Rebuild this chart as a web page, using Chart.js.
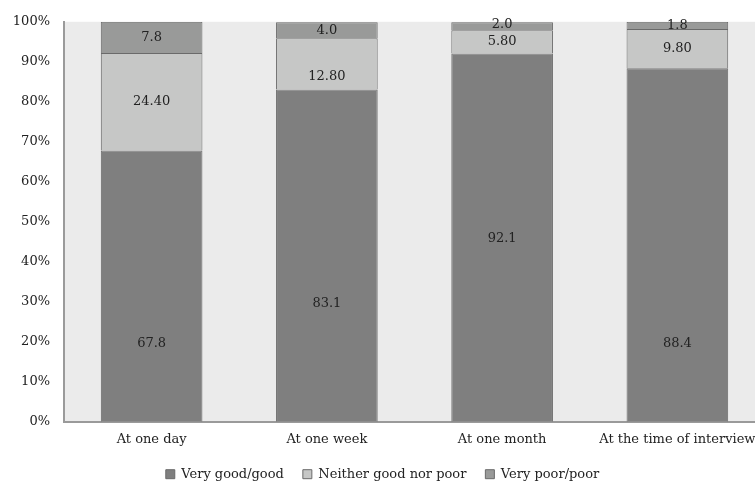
<!DOCTYPE html>
<html>
<head>
<meta charset="utf-8">
<script src="https://cdn.jsdelivr.net/npm/chart.js@4"></script>
<style>
    html, body { margin: 0; padding: 0; background: #fff; overflow: hidden; }
    #wrap { width: 770px; height: 482px; }
</style>
</head>
<body>
<div id="wrap"><canvas id="chartCanvas"></canvas></div>
<script>
// values (percent)
let categories = ['At one day', 'At one week', 'At one month', 'At the time of interview'];
let veryGood = [67.8, 83.1, 92.1, 88.4];
let neither = [24.4, 12.8, 5.8, 9.8];
let veryPoor = [7.8, 4.0, 2.0, 1.8];
let yTicks = [0, 10, 20, 30, 40, 50, 60, 70, 80, 90, 100];

let fontName = "'DejaVu Serif', serif";

// grey plot background
let plotBackground = {
    id: 'plotBackground',
    beforeDraw: function (chart) {
        let ctx = chart.ctx, a = chart.chartArea;
        ctx.save();
        ctx.fillStyle = '#ebebeb';
        ctx.fillRect(a.left, a.top, a.right - a.left, a.bottom - a.top);
        ctx.restore();
    }
};

// numbers in each segment, nudged down where the original had them moved
let segmentLabels = {
    id: 'segmentLabels',
    afterDatasetsDraw: function (chart, args, opts) {
        let ctx = chart.ctx;
        ctx.save();
        ctx.font = '13px ' + fontName;
        ctx.fillStyle = '#222';
        ctx.textAlign = 'center';
        ctx.textBaseline = 'middle';
        chart.data.datasets.forEach(function (ds, i) {
            let nudge = opts.nudge[i] || [];
            chart.getDatasetMeta(i).data.forEach(function (bar, j) {
                let p = bar.getCenterPoint();
                ctx.fillText(ds.data[j].toFixed(ds.decimals), p.x, p.y + (nudge[j] || 0));
            });
        });
        ctx.restore();
    }
};

let config = {
    type: 'bar',
    data: {
        labels: categories,
        datasets: [
            {
                label: 'Very good/good',
                data: veryGood,
                decimals: 1,
                backgroundColor: '#7f7f7f',
                borderColor: '#6a6a6a',
                borderWidth: 1
            },
            {
                label: 'Neither good nor poor',
                data: neither,
                decimals: 2,
                backgroundColor: '#c6c7c6',
                borderColor: '#6a6a6a',
                borderWidth: 1
            },
            {
                label: 'Very poor/poor',
                data: veryPoor,
                decimals: 1,
                backgroundColor: '#999a99',
                borderColor: '#6a6a6a',
                borderWidth: 1
            }
        ]
    },
    options: {
        responsive: true,
        maintainAspectRatio: false,
        animation: false,
        layout: { padding: { top: 12, right: 5, left: 0, bottom: -8.7 } },
        datasets: { bar: { barPercentage: 1, categoryPercentage: 0.58 } },
        scales: {
            x: {
                stacked: true,
                grid: { display: false, drawTicks: false },
                border: { display: true, color: '#9a9a9a', width: 2 },
                ticks: { color: '#222', font: { family: fontName, size: 13 }, padding: 10, maxRotation: 0 },
                afterFit: function (s) { s.height = 27; }
            },
            y: {
                stacked: true,
                min: 0,
                max: 100,
                grid: { display: false, drawTicks: false },
                border: { display: true, color: '#9a9a9a', width: 2 },
                afterBuildTicks: function (s) { s.ticks = yTicks.map(function (v) { return { value: v }; }); },
                ticks: {
                    color: '#222',
                    font: { family: fontName, size: 13 },
                    padding: 14,
                    callback: function (v) { return v + '%'; }
                },
                afterFit: function (s) { s.width = 64; }
            }
        },
        plugins: {
            tooltip: { enabled: false },
            segmentLabels: { nudge: [[57, 48, 1, 99], [0, 13, 0, 0], [0, 0, -2, 0]] },
            legend: {
                position: 'bottom',
                labels: {
                    color: '#222',
                    font: { family: fontName, size: 13 },
                    boxWidth: 9,
                    boxHeight: 9,
                    padding: 19
                }
            }
        }
    },
    plugins: [plotBackground, segmentLabels]
};

window.onload = function () {
    let chartCanvas = document.getElementById('chartCanvas').getContext('2d');
    let chart = new Chart(chartCanvas, config);
};
</script>
</body>
</html>
